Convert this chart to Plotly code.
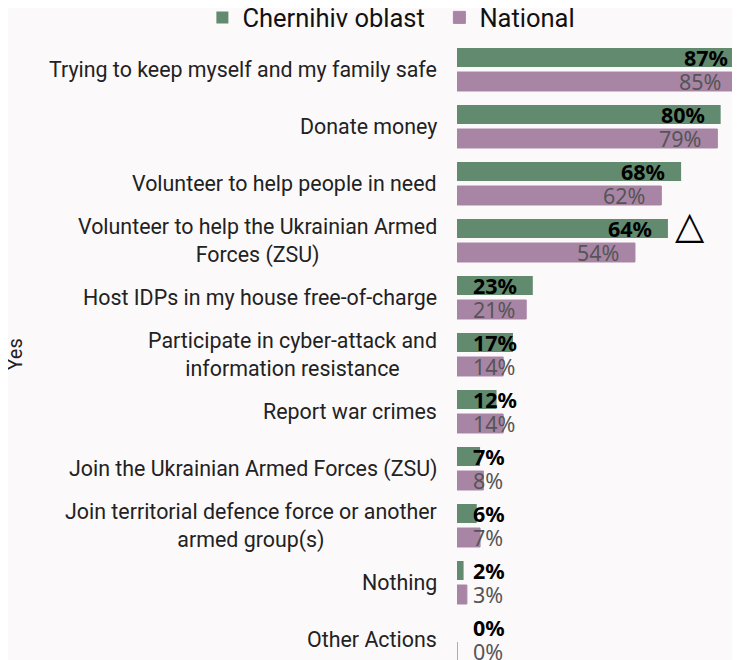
import plotly.graph_objects as go

categories = [
    "Trying to keep myself and my family safe",
    "Donate money",
    "Volunteer to help people in need",
    "Volunteer to help the Ukrainian Armed<br>Forces (ZSU)",
    "Host IDPs in my house free-of-charge",
    "Participate in cyber-attack and<br>information resistance",
    "Report war crimes",
    "Join the Ukrainian Armed Forces (ZSU)",
    "Join territorial defence force or another<br>armed group(s)",
    "Nothing",
    "Other Actions",
]
chernihiv = [87, 80, 68, 64, 23, 17, 12, 7, 6, 2, 0]
national = [85, 79, 62, 54, 21, 14, 14, 8, 7, 3, 0]
significant = [False, False, False, True, False, False, False, False, False, False, False]

GREEN = "#628a6f"
PURPLE = "#a985a5"
BG = "#fcf9fb"

fig = go.Figure()
fig.add_trace(go.Bar(
    y=categories, x=chernihiv, name="Chernihiv oblast", orientation="h",
    marker=dict(color=GREEN, line=dict(width=0)), offsetgroup="a",
))
fig.add_trace(go.Bar(
    y=categories, x=national, name="National", orientation="h",
    marker=dict(color=PURPLE, line=dict(color=PURPLE, width=1)), offsetgroup="b",
))

annotations = []
for i, (cat, c, n) in enumerate(zip(categories, chernihiv, national)):
    # category label, centred lines, right-aligned block
    annotations.append(dict(
        x=0, y=cat, xref="paper", yref="y", text=cat, showarrow=False,
        xanchor="right", yanchor="middle", align="center", xshift=-18,
        font=dict(family="Roboto", size=21.4, color="#222222"),
    ))
    for val, shift, style in ((c, -12, "c"), (n, 12, "n")):
        big = val >= 30
        font = dict(family="Noto Sans", size=21.5,
                    color="#000000" if style == "c" else "#555555")
        if style == "c":
            font["weight"] = "bold"
        annotations.append(dict(
            x=val if big else 0, y=cat, xref="x", yref="y",
            text=f"{val}%", showarrow=False,
            xanchor="right" if big else "left",
            xshift=-14 if big else 14, yshift=-shift,
            font=font, yanchor="middle",
        ))
    if significant[i]:
        annotations.append(dict(
            x=c, y=cat, xref="x", yref="y", text="△", showarrow=False,
            xanchor="left", xshift=5, yshift=16,
            font=dict(family="DejaVu Sans", size=38, color="#000000"),
        ))

annotations.append(dict(
    x=-1.522, y=0.5, xref="paper", yref="paper", text="Yes", textangle=-90,
    showarrow=False, xanchor="center", yanchor="middle",
    font=dict(family="Roboto", size=20, color="#222222"),
))

fig.update_layout(
    width=740, height=660,
    paper_bgcolor=BG, plot_bgcolor=BG,
    margin=dict(l=449, r=0, t=33, b=0, autoexpand=False),
    barmode="group", bargap=0.158, bargroupgap=0.21,
    font=dict(family="Roboto", size=21, color="#222222"),
    showlegend=True,
    legend=dict(orientation="h", x=-0.875, xanchor="left", y=1.037, yref="paper",
                yanchor="middle", font=dict(size=25.5, color="#111111"),
                traceorder="normal", itemwidth=30, entrywidth=192,
                bgcolor="rgba(0,0,0,0)"),
    annotations=annotations,
    xaxis=dict(range=[0, 88.3], visible=False, fixedrange=True),
    yaxis=dict(range=[10.5, -0.5], showgrid=False, zeroline=False,
               ticks="", showticklabels=False),
)

fig.write_html("out.html")
